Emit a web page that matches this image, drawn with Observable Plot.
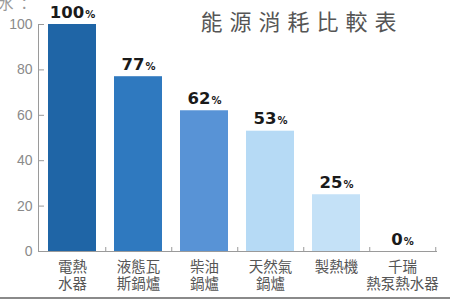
<!DOCTYPE html>
<html>
<head>
<meta charset="utf-8">
<script src="https://cdn.jsdelivr.net/npm/d3@7"></script>
<script src="https://cdn.jsdelivr.net/npm/@observablehq/plot@0.6"></script>
<style>
  html, body { margin: 0; padding: 0; background: #fff; }
  #wrap { position: relative; width: 450px; height: 300px; overflow: hidden; }
  #bottomline { position: absolute; left: 0; top: 297px; width: 450px; height: 2px; background: #8a8a8a; }
</style>
</head>
<body>
<div id="wrap"><div id="bottomline"></div></div>
<script>
const categories = ["電熱\n水器", "液態瓦\n斯鍋爐", "柴油\n鍋爐", "天然氣\n鍋爐", "製熱機", "千瑞\n熱泵熱水器"];
const values = [100, 77, 62, 53, 25, 0];
const barColors = ["#1f65a6", "#2f79bf", "#5893d6", "#b6daf5", "#c4e1f7", "#d6ebfa"];
const yTicks = [0, 20, 40, 60, 80, 100];
const title = "能源消耗比較表";

const data = categories.map((c, i) => ({cat: c, value: values[i], color: barColors[i]}));

const cjk = "'Noto Sans CJK TC', 'Noto Sans CJK SC', sans-serif";

const chart = Plot.plot({
  width: 450,
  height: 300,
  marginLeft: 38,
  marginRight: 13,
  marginTop: 24,
  marginBottom: 49,
  style: {fontFamily: cjk, background: "#fff", overflow: "visible"},
  x: {domain: categories, paddingInner: 0.27, paddingOuter: 0.135, axis: null, label: null},
  y: {domain: [0, 100], axis: null, label: null},
  marks: [
    // y axis ticks (pointing inward)
    Plot.ruleY(yTicks, {y: d => d, stroke: "#9a9a9a", insetRight: 399 - 6}),
    Plot.axisY(yTicks, {tickSize: 0, tickPadding: 6, fontSize: 14, fill: "#8a8a8a", label: null,
      fontFamily: "'Liberation Sans', sans-serif", stroke: null}),
    Plot.frame({anchor: "left", stroke: "#9a9a9a"}),
    // bars
    Plot.barY(data, {x: "cat", y: "value", fill: "color"}),
    Plot.ruleY([0], {stroke: "#9a9a9a"}),
    // category boundary ticks on the x axis
    Plot.ruleX(categories, {x: d => d, dx: 33.25, stroke: "#9a9a9a", insetTop: 227 - 4}),
    // category labels
    Plot.text(data, {x: "cat", text: "cat", frameAnchor: "bottom", lineAnchor: "top", dy: 8,
      fontSize: 14.5, fill: "#555", lineHeight: 1.2, fontFamily: cjk}),
    // value labels
    Plot.text(data, {x: "cat", y: "value", text: d => String(d.value), lineAnchor: "bottom", dy: -7,
      fontSize: 16.5, fontWeight: "bold", fill: "#1a1a1a", fontFamily: "'DejaVu Sans', sans-serif",
      className: "vlabel"}),
    // title
    Plot.text([title], {frameAnchor: "top", dx: 64, dy: -2, lineAnchor: "middle", fontSize: 22,
      fill: "#555", fontFamily: cjk, className: "ttl"}),
    // cropped text at top-left
    Plot.text(["水 ："], {frameAnchor: "top-left", dx: -40, dy: -16, lineAnchor: "bottom", textAnchor: "start",
      fontSize: 15, fill: "#999", fontFamily: cjk})
  ]
});

// value labels: smaller percent sign
chart.querySelectorAll("g.vlabel text").forEach(t => {
  const v = t.textContent;
  t.textContent = "";
  t.appendChild(document.createTextNode(v));
  const ts = document.createElementNS("http://www.w3.org/2000/svg", "tspan");
  ts.setAttribute("font-size", "10");
  ts.setAttribute("dx", "1");
  ts.textContent = "%";
  t.appendChild(ts);
});
chart.querySelectorAll("g.ttl text").forEach(t => t.setAttribute("letter-spacing", "7"));

document.getElementById("wrap").prepend(chart);
</script>
</body>
</html>
